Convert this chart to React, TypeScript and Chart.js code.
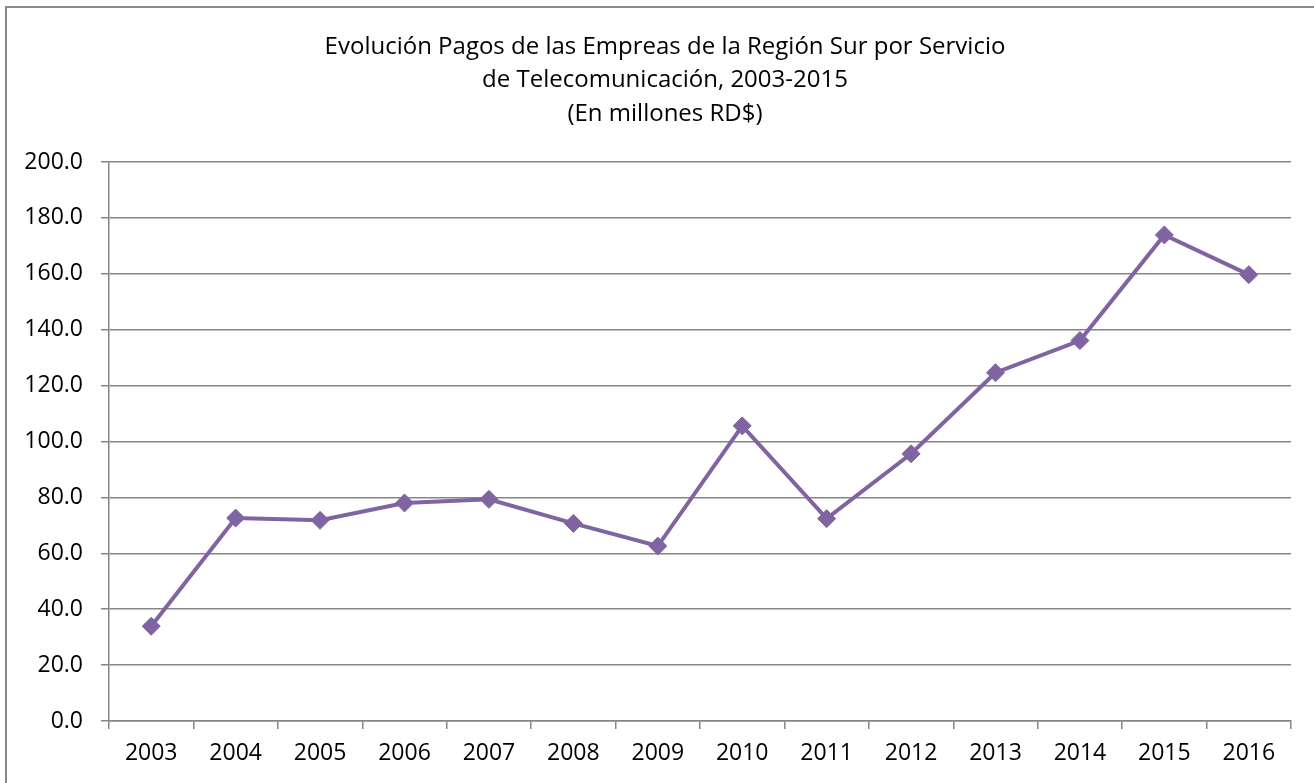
import React, { useEffect, useRef } from "react";
import { Chart, registerables } from "chart.js";

Chart.register(...registerables);

const years = ["2003", "2004", "2005", "2006", "2007", "2008", "2009", "2010", "2011", "2012", "2013", "2014", "2015", "2016"];
const pagos = [33.9, 72.6, 71.8, 78.0, 79.3, 70.7, 62.6, 105.6, 72.4, 95.6, 124.6, 136.1, 173.9, 159.7];
const titleLines = [
  "Evolución Pagos de las Empreas de la Región Sur por Servicio",
  "de Telecomunicación, 2003-2015",
  "(En millones RD$)",
];

const FONT = "'Open Sans', 'DejaVu Sans', sans-serif";
const GRID = "#868686";
const PURPLE = "#8064A2";

export default function App() {
  const ref = useRef<HTMLCanvasElement | null>(null);

  useEffect(() => {
    if (!ref.current) return;
    const chart = new Chart(ref.current, {
      type: "line",
      data: {
        labels: years,
        datasets: [
          {
            data: pagos,
            borderColor: PURPLE,
            backgroundColor: PURPLE,
            borderWidth: 4,
            pointStyle: "rectRot",
            pointRadius: 9,
            pointBackgroundColor: PURPLE,
            pointBorderColor: PURPLE,
            pointBorderWidth: 1,
            tension: 0,
          },
        ],
      },
      options: {
        responsive: false,
        animation: false,
        layout: { padding: { top: 162, right: 23, left: 0, bottom: 0 } },
        plugins: {
          legend: { display: false },
          title: { display: false },
          tooltip: { enabled: false },
        },
        scales: {
          x: {
            type: "category",
            offset: true,
            grid: {
              display: true,
              drawOnChartArea: false,
              drawTicks: true,
              tickLength: 8,
              offset: true,
              color: GRID,
              lineWidth: 1.5,
            },
            border: { display: true, color: GRID, width: 1.5 },
            ticks: {
              color: "#000",
              font: { family: FONT, size: 23 },
              padding: 11,
              maxRotation: 0,
              autoSkip: false,
            },
            afterFit: (s: any) => {
              s.height = 62;
            },
          },
          y: {
            min: 0,
            max: 200,
            grid: {
              color: GRID,
              lineWidth: 1.5,
              drawTicks: true,
              tickLength: 8,
            },
            border: { display: true, color: GRID, width: 1.5 },
            ticks: {
              stepSize: 20,
              color: "#000",
              font: { family: FONT, size: 23 },
              padding: 18,
              callback: (v: any) => Number(v).toFixed(1),
            },
            afterFit: (s: any) => {
              s.width = 109;
            },
          },
        },
      },
    });
    return () => chart.destroy();
  }, []);

  return (
    <div
      style={{
        position: "fixed",
        left: 0,
        top: 0,
        width: 1314,
        height: 783,
        background: "#fff",
        overflow: "hidden",
      }}
    >
      <div
        style={{
          position: "absolute",
          left: 5,
          top: 6,
          width: 1400,
          height: 900,
          border: "2px solid #8a8a8a",
          boxSizing: "border-box",
        }}
      />
      <canvas
        ref={ref}
        width={1314}
        height={783}
        style={{ position: "absolute", left: 0, top: 0, width: 1314, height: 783 }}
      />
      <div
        style={{
          position: "absolute",
          left: 665,
          top: 28,
          transform: "translateX(-50%)",
          whiteSpace: "nowrap",
          textAlign: "center",
          fontFamily: FONT,
          fontSize: 24,
          lineHeight: "33.4px",
          color: "#000",
        }}
      >
        {titleLines.map((t, i) => (
          <div key={i}>{t}</div>
        ))}
      </div>
    </div>
  );
}
